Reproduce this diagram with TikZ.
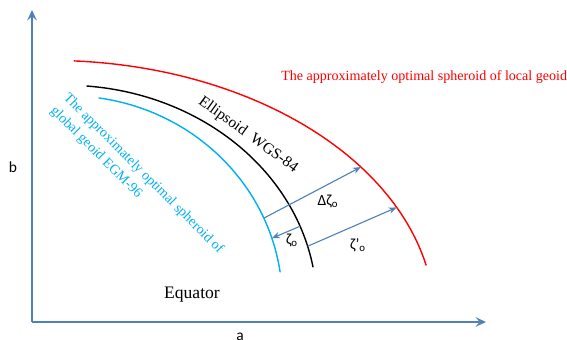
\documentclass[tikz,border=0pt]{standalone}
\usepackage{fontspec}
\setmainfont{Liberation Serif}
\newfontfamily\calib{Carlito}
\usetikzlibrary{arrows.meta}
\definecolor{axisblue}{RGB}{79,129,189}
\definecolor{geoidcyan}{RGB}{0,176,240}

\begin{document}
\begin{tikzpicture}[
    axis/.style={
        axisblue,
        line width=1.1pt,
        -{Stealth[length=2.6mm,width=2.4mm,inset=1mm]}
    },
    surf/.style={
        line width=1pt,
        line cap=round
    },
    sep/.style={
        axisblue,
        line width=0.8pt,
        -{Stealth[length=2mm,width=1.6mm]}
    },
    zlab/.style={
        font=\calib\fontsize{11}{13}\selectfont,
        inner sep=1pt
    }
]

\path[use as bounding box] (0,0) rectangle (14.175,8.5);

\coordinate (O) at (0.8,0.45);
\coordinate (ytip) at (0.8,8.25);
\coordinate (xtip) at (12.15,0.45);

\draw[axis] (O) -- (ytip);
\draw[axis] (O) -- (xtip);

% centres of the three arcs
\coordinate (cred) at (1.25,0.5);
\coordinate (cblack) at (1.625,0.875);
\coordinate (ccyan) at (1.7,0.95);

\draw[surf, red]
(cred) ++(86.4:9.62 and 6.49)
arc[start angle=86.4, end angle=12.2, x radius=9.62, y radius=6.49];

\draw[surf, black]
(cblack) ++(85:6.295 and 5.495)
arc[start angle=85, end angle=10, x radius=6.295, y radius=5.495];

\draw[surf, geoidcyan]
(ccyan) ++(81.7:5.36 and 5.155)
arc[start angle=81.7, end angle=8.4, x radius=5.36, y radius=5.155];

\path (cred) ++(36.1:9.62 and 6.49) coordinate (red1);
\path (cred) ++(25.7:9.62 and 6.49) coordinate (red2);
\path (cblack) ++(15.5:6.295 and 5.495) coordinate (blk1);
\path (cblack) ++(21:6.295 and 5.495) coordinate (blk2);
\path (ccyan) ++(24:5.36 and 5.155) coordinate (cyn1);
\path (ccyan) ++(18:5.36 and 5.155) coordinate (cyn2);

\draw[sep] (cyn1) -- (red1);
\draw[sep] (blk1) -- (red2);
\draw[sep] (blk2) -- (cyn2);

\node[zlab] (dzeta) at (8.2,3.475) {Δζ\textsubscript{o}};
\node[zlab] (zeta) at (7.3,2.5) {ζ\textsubscript{o}};
\node[zlab] (zetap) at (8.95,2.375) {ζ’\textsubscript{o}};

\node[
    red,
    font=\fontsize{10}{12}\selectfont,
    anchor=west,
    inner sep=0pt
]
(localgeoid) at (7.025,6.575)
{The approximately optimal spheroid of local geoid};

\node[
    font=\fontsize{11}{13}\selectfont,
    rotate=-36
]
(wgs) at (6.2,5.125)
{Ellipsoid\ \ WGS-84};

\node[
    geoidcyan,
    font=\fontsize{10}{13}\selectfont,
    align=left,
    anchor=north west,
    inner sep=0pt,
    rotate=-45
]
(egm) at (1.75,6.225)
{The approximately optimal spheroid of\\ global geoid EGM-96};

\node[font=\fontsize{12.5}{14}\selectfont] (equator) at (4.8,1.125) {Equator};

\node[zlab] (blab) at (0.325,4.325) {b};
\node[zlab] (alab) at (6.0,0.08) {a};
\end{tikzpicture}
\end{document}
